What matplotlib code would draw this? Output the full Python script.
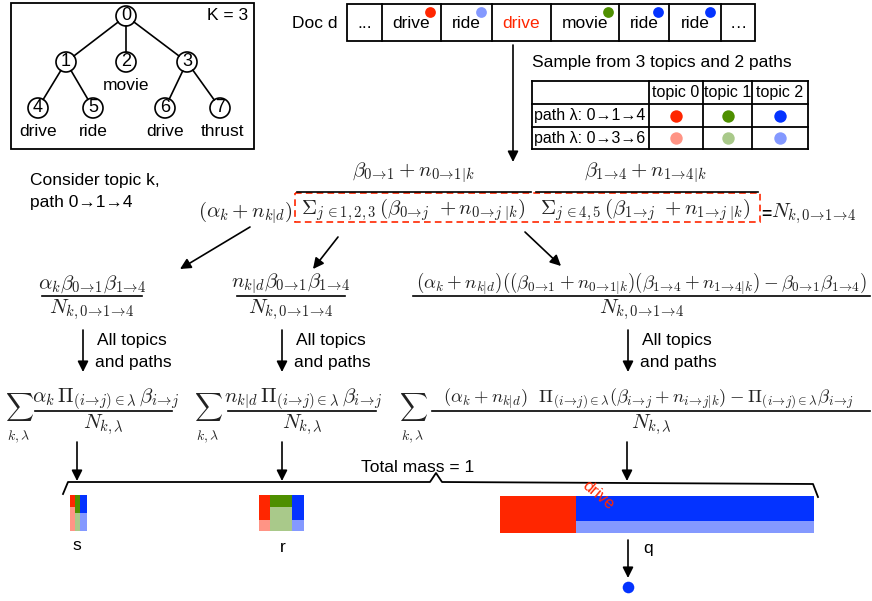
import matplotlib
matplotlib.use("Agg")
import matplotlib.pyplot as plt
import numpy as np

# --- tree of paths ---
node_names = ["0", "1", "2", "3", "4", "5", "6", "7"]
node_xy = [(126, 16), (66, 62), (126, 62), (187, 62), (38, 108), (93, 108), (165, 108), (220, 108)]
tree_edges = [(0, 1), (0, 2), (0, 3), (1, 4), (1, 5), (3, 6), (3, 7)]
leaf_words = {2: "movie", 4: "drive", 5: "ride", 6: "drive", 7: "thrust"}

# --- document ---
doc_words = ["...", "drive", "ride", "drive", "movie", "ride", "ride", "…"]
doc_tags = [None, (0, 0), (2, 1), None, (1, 0), (2, 0), (2, 0), None]  # (topic, path)
doc_edges = [347, 382, 441, 492, 551, 619, 669, 721, 755]

# --- topics / paths table ---
topics = ["topic 0", "topic 1", "topic 2"]
paths = ["path λ: 0→1→4", "path λ: 0→3→6"]
topic_colors = [["#ff2600", "#ff9485"], ["#4e8f00", "#a9c98a"], ["#0433ff", "#8499ff"]]

# --- bucket masses per topic, [path 0→1→4, path 0→3→6] ---
s_mass = [[1.6, 3.4], [2.5, 2.5], [3.5, 3.5]]
r_mass = [[7.6, 3.4], [7.3, 14.7], [8.3, 3.7]]
q_mass = [[76, 0], [0, 0], [161, 77]]

plt.rcParams["font.family"] = ["Liberation Sans", "DejaVu Sans"]
plt.rcParams["mathtext.fontset"] = "cm"

fig = plt.figure(figsize=(8.72, 6.01), dpi=100)
ax = fig.add_axes([0, 0, 1, 1])
ax.set_xlim(0, 872)
ax.set_ylim(601, 0)
ax.axis("off")

FS = 12.5
MFS = 15
mcol = "#222222"
A = r"\!\rightarrow\!"   # tight arrow in subscripts


def arrow(x0, y0, x1, y1):
    ax.annotate("", xy=(x1, y1), xytext=(x0, y0),
                arrowprops=dict(arrowstyle="-|>", color="black", lw=1.2, mutation_scale=16,
                                shrinkA=0, shrinkB=0))


def frac(xc, y, num, den, x0, x1, fs=MFS):
    ax.text(xc, y - 12, num, ha="center", va="center", fontsize=fs, color=mcol)
    ax.plot([x0, x1], [y, y], color="black", lw=1.2)
    ax.text((x0 + x1) / 2, y + 14, den, ha="center", va="center", fontsize=MFS, color=mcol)


# --- tree box ---
ax.add_patch(plt.Rectangle((11, 3), 243, 146, fill=False, lw=1.3, ec="black"))
ax.text(248, 16, "K = 3", ha="right", va="center", fontsize=FS)
for a, b in tree_edges:
    (xa, ya), (xb, yb) = node_xy[a], node_xy[b]
    d = np.hypot(xb - xa, yb - ya)
    ux, uy = (xb - xa) / d, (yb - ya) / d
    ax.plot([xa + ux * 10, xb - ux * 10], [ya + uy * 10, yb - uy * 10], color="black", lw=1.2)
for name, (x, y) in zip(node_names, node_xy):
    ax.add_patch(plt.Circle((x, y), 10, fill=False, lw=1.2, ec="black"))
    ax.text(x, y, name, ha="center", va="center", fontsize=13)
for i, w in leaf_words.items():
    x, y = node_xy[i]
    ax.text(x + (2 if i == 7 else 0), y + 24, w, ha="center", va="center", fontsize=FS)

# --- document row ---
ax.text(337, 23, "Doc d", ha="right", va="center", fontsize=FS)
ax.add_patch(plt.Rectangle((doc_edges[0], 4), doc_edges[-1] - doc_edges[0], 37, fill=False, lw=1.3))
for e in doc_edges[1:-1]:
    ax.plot([e, e], [4, 41], color="black", lw=1.3)
for i, w in enumerate(doc_words):
    xc = (doc_edges[i] + doc_edges[i + 1]) / 2
    ax.text(xc, 23, w, ha="center", va="center", fontsize=FS,
            color="#ff2600" if i == 3 else "black")
    if doc_tags[i] is not None:
        t, p = doc_tags[i]
        ax.scatter(doc_edges[i + 1] - 11, 12, s=60, color=topic_colors[t][p], zorder=3, lw=0)

arrow(513, 45, 513, 162)

# --- sample table ---
ax.text(532, 62, "Sample from 3 topics and 2 paths", ha="left", va="center", fontsize=FS)
cols = [532, 649, 703, 752, 808]
rows = [81, 104, 127, 149]
for r in rows:
    ax.plot([cols[0], cols[-1]], [r, r], color="black", lw=1.3)
for c in cols:
    ax.plot([c, c], [rows[0], rows[-1]], color="black", lw=1.3)
for j, t in enumerate(topics):
    ax.text((cols[j + 1] + cols[j + 2]) / 2, (rows[0] + rows[1]) / 2, t,
            ha="center", va="center", fontsize=11.5)
for i, p in enumerate(paths):
    yc = (rows[i + 1] + rows[i + 2]) / 2
    ax.text(cols[0] + 2, yc, p, ha="left", va="center", fontsize=11.5)
    for j in range(3):
        ax.scatter((cols[j + 1] + cols[j + 2]) / 2, yc, s=80, color=topic_colors[j][i], lw=0, zorder=3)

# --- first formula ---
ax.text(30, 180, "Consider topic k,", ha="left", va="center", fontsize=FS)
ax.text(30, 203, "path 0→1→4", ha="left", va="center", fontsize=FS)
ax.text(293, 213, r"$(\alpha_k + n_{k|d})$", ha="right", va="center", fontsize=MFS, color=mcol)
ax.text(413, 173, r"$\beta_{0" + A + r"1} + n_{0" + A + r"1|k}$", ha="center", va="center", fontsize=MFS, color=mcol)
ax.plot([297, 531], [192, 192], color="black", lw=1.2)
ax.text(413, 210, r"$\Sigma_{j\,\in 1,2,3}\,(\beta_{0" + A + r"j}\ + n_{0" + A + r"j\ |k})$",
        ha="center", va="center", fontsize=MFS, color=mcol)
ax.text(645, 173, r"$\beta_{1" + A + r"4} + n_{1" + A + r"4|k}$", ha="center", va="center", fontsize=MFS, color=mcol)
ax.plot([536, 758], [192, 192], color="black", lw=1.2)
ax.text(645, 210, r"$\Sigma_{j\,\in 4,5}\,(\beta_{1" + A + r"j}\ + n_{1" + A + r"j\ |k})$",
        ha="center", va="center", fontsize=MFS, color=mcol)
ax.add_patch(plt.Rectangle((295, 193), 465, 29, fill=False, ec="#ff2600", lw=1.2, ls=(0, (4, 2.5))))
ax.text(761, 214, "=", ha="left", va="center", fontsize=FS, fontweight="bold")
N014 = r"$N_{k,0" + A + "1" + A + r"4}$"
ax.text(771, 214, N014, ha="left", va="center", fontsize=MFS, color=mcol)

arrow(250, 227, 180, 269)
arrow(338, 237, 313, 269)
arrow(525, 232, 561, 266)

# --- second row ---
b01 = r"\beta_{0" + A + "1}"
b14 = r"\beta_{1" + A + "4}"
frac(92, 296, r"$\alpha_k" + b01 + b14 + "$", N014, 42, 142)
frac(291, 296, r"$n_{k|d}" + b01 + b14 + "$", N014, 237, 345)
frac(641, 296, r"$(\alpha_k + n_{k|d})((" + b01 + r" + n_{0" + A + r"1|k})(" + b14 + r" + n_{1" + A + r"4|k}) - " + b01 + b14 + ")$",
     N014, 413, 870, fs=13.6)

for x in [83, 282, 628]:
    arrow(x, 330, x, 372)
    ax.text(x + 14, 341, "All topics", ha="left", va="center", fontsize=FS)
    ax.text(x + 12, 362, "and paths", ha="left", va="center", fontsize=FS)

# --- third row ---
prod = r"\Pi_{(i" + A + r"j)\in\lambda}"
bij = r"\beta_{i" + A + "j}"
for x in [19, 208, 413]:
    ax.text(x, 407, r"$\sum$", ha="center", va="center", fontsize=14, color=mcol)
    ax.text(x, 437, r"$k,\lambda$", ha="center", va="center", fontsize=10, color=mcol)
frac(106, 411, r"$\alpha_k\," + prod + r"\," + bij + "$", r"$N_{k,\lambda}$", 35, 172)
frac(303, 411, r"$n_{k|d}\," + prod + r"\," + bij + "$", r"$N_{k,\lambda}$", 228, 376)
frac(648, 411, r"$(\alpha_k + n_{k|d})\ \ " + prod + "(" + bij + r" + n_{i" + A + r"j|k}) - " + prod + bij + "$",
     r"$N_{k,\lambda}$", 432, 870, fs=13.4)

for x in [77, 282, 627]:
    arrow(x, 442, x, 481)

# --- total mass brace ---
ax.text(418, 467, "Total mass = 1", ha="center", va="center", fontsize=FS)
bx = [63, 68, 430, 436, 442, 813, 818]
by = [494, 482, 482, 473, 482, 484, 497]
ax.plot(bx, by, color="black", lw=1.3)

# --- buckets ---
def bucket(x0, y0, masses, height=36):
    left = x0
    for t, (m_a, m_b) in enumerate(masses):
        w = m_a + m_b
        if w == 0:
            continue
        h_a = height * m_a / w
        ax.bar(left, h_a, width=w, bottom=y0, align="edge", color=topic_colors[t][0], lw=0)
        ax.bar(left, height - h_a, width=w, bottom=y0 + h_a, align="edge", color=topic_colors[t][1], lw=0)
        left += w


bucket(70, 495, s_mass)
bucket(259, 495, r_mass)
bucket(500, 496, q_mass, height=37)

ax.text(598, 495, "drive", ha="center", va="center", fontsize=12, color="#ff2600", rotation=-40)

ax.text(77, 545, "s", ha="center", va="center", fontsize=FS)
ax.text(283, 548, "r", ha="center", va="center", fontsize=FS)
ax.text(648, 548, "q", ha="center", va="center", fontsize=FS)
arrow(628, 540, 628, 578)
ax.scatter(628, 587, s=70, color=topic_colors[2][0], lw=0)

fig.savefig("out.png", dpi=100)
